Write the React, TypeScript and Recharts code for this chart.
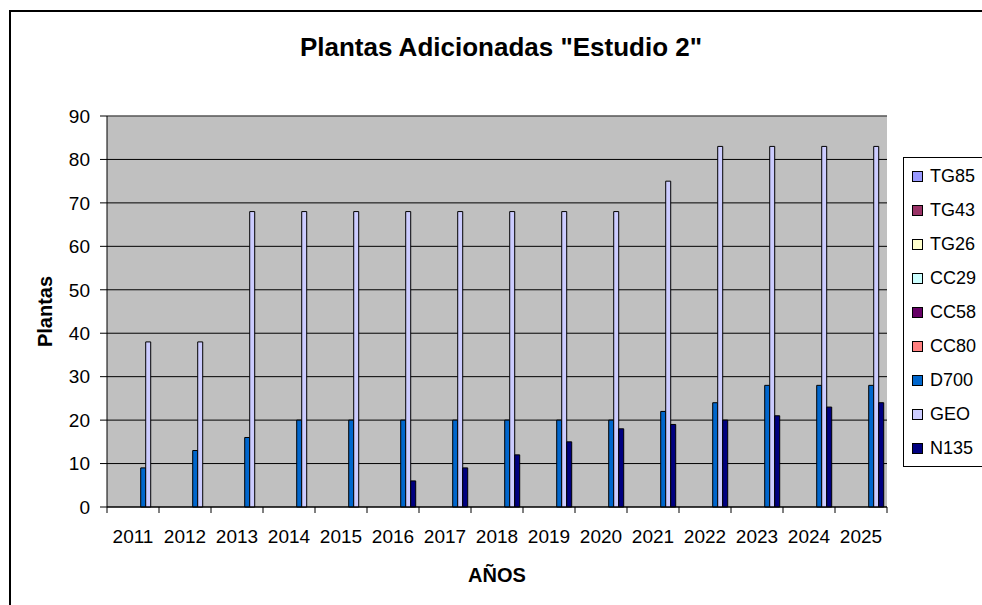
import { Bar, BarChart, CartesianGrid, Legend, ReferenceLine, XAxis, YAxis } from "recharts";

// Years on the category axis
const years = ["2011", "2012", "2013", "2014", "2015", "2016", "2017", "2018", "2019", "2020", "2021", "2022", "2023", "2024", "2025"];

// Plants added per year, one array per series
const tg85 = [0, 0, 0, 0, 0, 0, 0, 0, 0, 0, 0, 0, 0, 0, 0];
const tg43 = [0, 0, 0, 0, 0, 0, 0, 0, 0, 0, 0, 0, 0, 0, 0];
const tg26 = [0, 0, 0, 0, 0, 0, 0, 0, 0, 0, 0, 0, 0, 0, 0];
const cc29 = [0, 0, 0, 0, 0, 0, 0, 0, 0, 0, 0, 0, 0, 0, 0];
const cc58 = [0, 0, 0, 0, 0, 0, 0, 0, 0, 0, 0, 0, 0, 0, 0];
const cc80 = [0, 0, 0, 0, 0, 0, 0, 0, 0, 0, 0, 0, 0, 0, 0];
const d700 = [9, 13, 16, 20, 20, 20, 20, 20, 20, 20, 22, 24, 28, 28, 28];
const geo = [38, 38, 68, 68, 68, 68, 68, 68, 68, 68, 75, 83, 83, 83, 83];
const n135 = [0, 0, 0, 0, 0, 6, 9, 12, 15, 18, 19, 20, 21, 23, 24];

const yTicks = [0, 10, 20, 30, 40, 50, 60, 70, 80, 90];

const series = [
  { key: "TG85", values: tg85, color: "#9999FF" },
  { key: "TG43", values: tg43, color: "#993366" },
  { key: "TG26", values: tg26, color: "#FFFFCC" },
  { key: "CC29", values: cc29, color: "#CCFFFF" },
  { key: "CC58", values: cc58, color: "#660066" },
  { key: "CC80", values: cc80, color: "#FF8080" },
  { key: "D700", values: d700, color: "#0066CC" },
  { key: "GEO", values: geo, color: "#CCCCFF" },
  { key: "N135", values: n135, color: "#000080" },
];

const data = years.map((year, i) => {
  const row: Record<string, string | number> = { year };
  series.forEach((s) => (row[s.key] = s.values[i]));
  return row;
});

const FONT = '"Liberation Sans", Arial, sans-serif';
const W = 982;
const H = 605;
const margin = { top: 116, right: 95, bottom: 18, left: 47 };
const Y_AXIS_W = 60;
const plotWidth = W - margin.left - Y_AXIS_W - margin.right;
const band = plotWidth / years.length;
const X_TICK_OFFSET = 23; // tickSize + tickMargin

// Excel puts the x tick marks between categories, not under them
function YearTick(props: any) {
  const { x, y, payload, index } = props;
  const axisY = y - X_TICK_OFFSET;
  return (
    <g>
      <line x1={x - band / 2} x2={x - band / 2} y1={axisY} y2={axisY + 6} stroke="#000" />
      {index === years.length - 1 && (
        <line x1={x + band / 2} x2={x + band / 2} y1={axisY} y2={axisY + 6} stroke="#000" />
      )}
      <text x={x} y={y} dy="0.71em" textAnchor="middle" fontSize={19} fontFamily={FONT} fill="#000">
        {payload.value}
      </text>
    </g>
  );
}

// keep the legend in series order (recharts sorts by name otherwise)
function LegendBox() {
  return (
    <div style={{ border: "1px solid #000", background: "#fff", padding: "1px 0 1px 8px", fontFamily: FONT }}>
      {series.map((s) => (
        <div key={s.key} style={{ height: 34, display: "flex", alignItems: "center", fontSize: 18 }}>
          <span style={{ width: 9, height: 9, border: "1px solid #000", background: s.color, marginRight: 7 }} />
          <span>{s.key}</span>
        </div>
      ))}
    </div>
  );
}

export default function App() {
  return (
    <div style={{ position: "absolute", left: 0, top: 0, width: W, height: H, overflow: "hidden", background: "#fff" }}>
      <div style={{ position: "absolute", left: 9, top: 10, width: 1100, height: 800, border: "2px solid #000" }} />
      <div
        style={{
          position: "absolute",
          left: 0,
          top: 32,
          width: 1002,
          textAlign: "center",
          fontFamily: FONT,
          fontWeight: "bold",
          fontSize: 26,
          lineHeight: "30px",
        }}
      >
        Plantas Adicionadas "Estudio 2"
      </div>
      <BarChart width={W} height={H} data={data} margin={margin} barCategoryGap="7.14%" barGap={0}>
        <CartesianGrid vertical={false} fill="#C0C0C0" stroke="#000" />
        <ReferenceLine y={90} stroke="#808080" />
        <XAxis
          dataKey="year"
          height={80}
          axisLine={{ stroke: "#000" }}
          tickLine={{ stroke: "none" }}
          tickSize={6}
          tickMargin={17}
          interval={0}
          tick={<YearTick />}
          label={{ value: "AÑOS", position: "insideBottom", offset: 5, fontSize: 20, fontWeight: "bold", fontFamily: FONT, fill: "#000" }}
        />
        <YAxis
          width={Y_AXIS_W}
          domain={[0, 90]}
          ticks={yTicks}
          interval={0}
          axisLine={{ stroke: "#000" }}
          tickLine={{ stroke: "#000" }}
          tickSize={7}
          tickMargin={10}
          tick={{ fontSize: 19, fontFamily: FONT, fill: "#000" }}
          label={{ value: "Plantas", angle: -90, position: "insideLeft", offset: -2, fontSize: 20, fontWeight: "bold", fontFamily: FONT, fill: "#000", style: { textAnchor: "middle" } }}
        />
        <YAxis yAxisId="right" orientation="right" width={0} tick={false} tickLine={false} axisLine={{ stroke: "#808080" }} />
        <Legend
          layout="vertical"
          align="center"
          verticalAlign="middle"
          content={<LegendBox />}
          wrapperStyle={{ left: 903, top: 157, width: 110, height: "auto" }}
        />
        {series.map((s) => (
          <Bar key={s.key} dataKey={s.key} name={s.key} fill={s.color} stroke="#000" strokeWidth={1} isAnimationActive={false} />
        ))}
      </BarChart>
    </div>
  );
}
